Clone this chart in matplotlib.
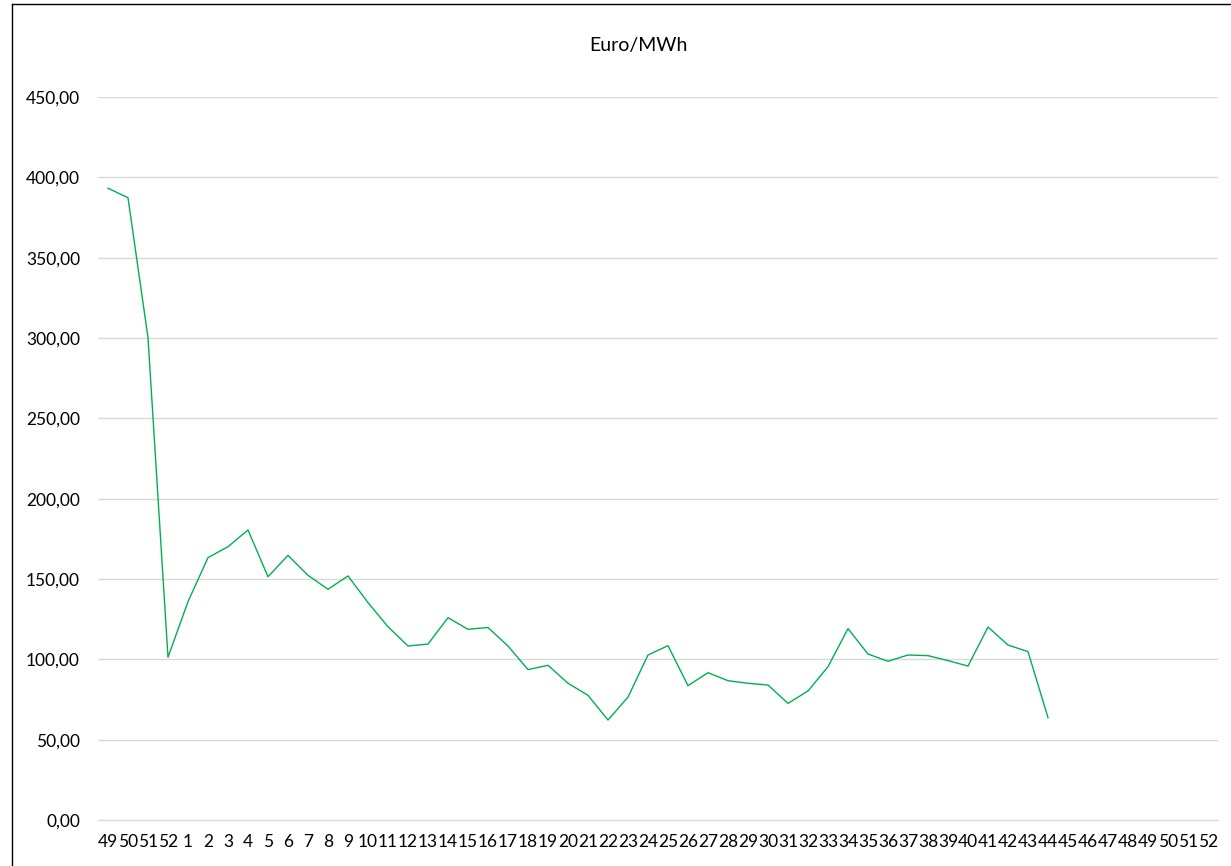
import matplotlib
matplotlib.use("Agg")
import matplotlib.pyplot as plt
from matplotlib.lines import Line2D
from matplotlib.ticker import FuncFormatter

# week numbers on the x axis (Dec of the previous year, then the full year)
weeks = [49, 50, 51, 52] + list(range(1, 53))

# Euro/MWh per week (data ends at week 44)
prices = [393.2, 387.3, 300.2, 101.3,
          135.9, 163.3, 170.1, 180.5, 151.4, 164.7, 152.3, 143.6, 151.9, 135.3,
          120.3, 108.3, 109.5, 125.9, 118.7, 119.8, 108.3, 93.6, 96.3, 85.1,
          77.6, 62.2, 76.5, 102.7, 108.5, 83.6, 91.7, 86.7, 85.1, 84.0,
          72.6, 80.3, 95.4, 119.1, 103.3, 98.8, 102.7, 102.3, 99.2, 95.8,
          120.1, 108.9, 104.8, 63.7]

y_ticks = [0, 50, 100, 150, 200, 250, 300, 350, 400, 450]

plt.rcParams['font.family'] = ['Lato', 'DejaVu Sans']

W, H = 1231, 866
fig = plt.figure(figsize=(W / 100, H / 100), dpi=100)
ax = fig.add_axes([98 / W, 1 - 820 / H, 1120 / W, 723 / H])

x = list(range(len(prices)))
ax.plot(x, prices, color='#00b050', linewidth=1.0)

ax.set_xlim(-0.5, len(weeks) - 0.5)
ax.set_ylim(0, 450)
ax.set_xticks(range(len(weeks)))
ax.set_xticklabels([str(w) for w in weeks])
ax.set_yticks(y_ticks)
ax.yaxis.set_major_formatter(FuncFormatter(lambda v, p: f"{v:.2f}".replace('.', ',')))

ax.grid(axis='y', color='#d9d9d9', linewidth=1.0)
ax.set_axisbelow(True)
for side in ['top', 'right', 'left']:
    ax.spines[side].set_visible(False)
ax.spines['bottom'].set_color('#d9d9d9')
ax.tick_params(axis='both', length=0, labelsize=12.5, colors='#000000')
ax.tick_params(axis='y', pad=13)
ax.tick_params(axis='x', pad=10)

fig.text(638 / W, 1 - 45 / H, 'Euro/MWh', ha='center', va='center', fontsize=14)

# chart frame (only left and top edges are visible in the crop)
fig.add_artist(Line2D([12 / W, 12 / W], [0, 1 - 4 / H], color='black', linewidth=1.0,
                      transform=fig.transFigure))
fig.add_artist(Line2D([12 / W, 1], [1 - 4 / H, 1 - 4 / H], color='black', linewidth=1.0,
                      transform=fig.transFigure))

fig.savefig('out.png', dpi=100)
